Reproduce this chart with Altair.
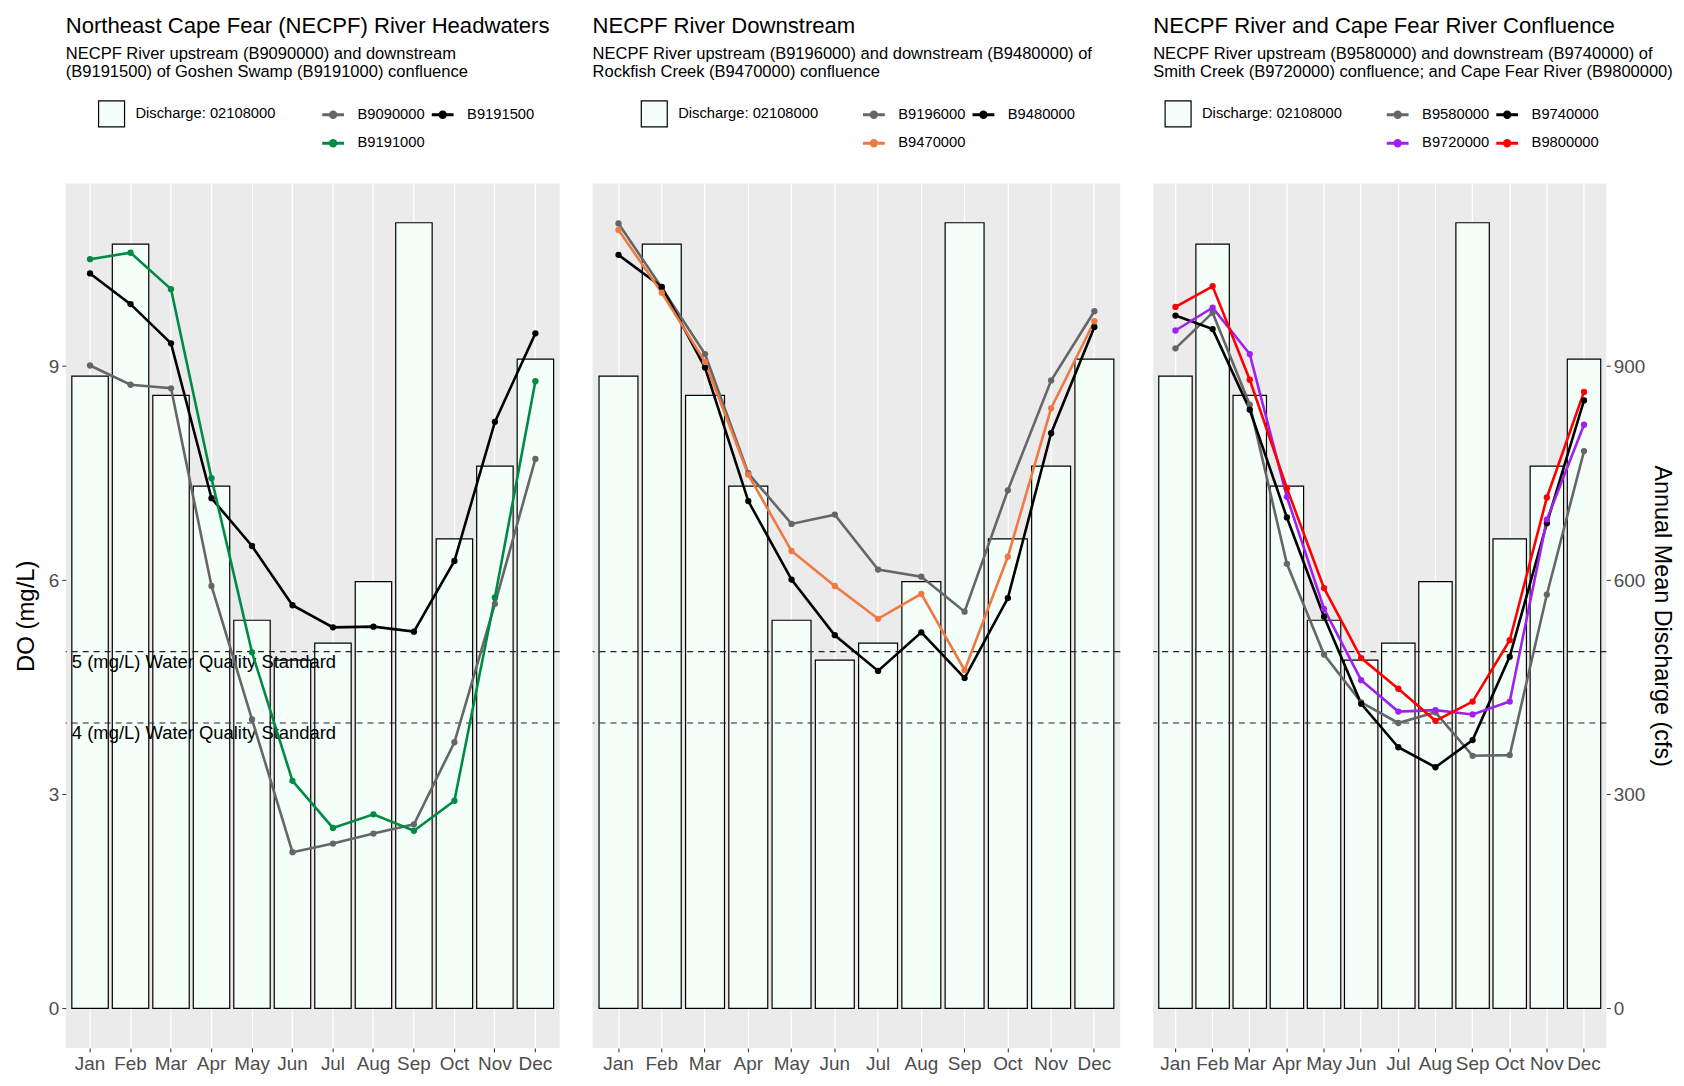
import altair as alt
import pandas as pd

FONT = "Liberation Sans"

months = ["Jan", "Feb", "Mar", "Apr", "May", "Jun", "Jul", "Aug", "Sep", "Oct", "Nov", "Dec"]
discharge = [886, 1071, 859, 732, 544, 488, 512, 598, 1101, 658, 760, 910]
discharge_label = "Discharge: 02108000"

# Panel 1
p1_stations = ["B9090000", "B9191500", "B9191000"]
p1_colors = ["#666666", "#000000", "#008B45"]
B9090000 = [9.01, 8.74, 8.69, 5.92, 4.05, 2.19, 2.31, 2.45, 2.58, 3.73, 5.67, 7.70]
B9191500 = [10.30, 9.87, 9.32, 7.15, 6.48, 5.65, 5.34, 5.35, 5.28, 6.27, 8.22, 9.46]
B9191000 = [10.50, 10.59, 10.08, 7.43, 4.99, 3.19, 2.53, 2.72, 2.49, 2.91, 5.76, 8.79]

# Panel 2
p2_stations = ["B9196000", "B9480000", "B9470000"]
p2_colors = ["#666666", "#000000", "#EE7942"]
B9196000 = [11.00, 10.10, 9.17, 7.50, 6.79, 6.92, 6.15, 6.05, 5.56, 7.26, 8.80, 9.77]
B9480000 = [10.56, 10.11, 8.98, 7.11, 6.01, 5.23, 4.73, 5.27, 4.63, 5.75, 8.06, 9.55]
B9470000 = [10.91, 10.03, 9.06, 7.48, 6.41, 5.92, 5.46, 5.81, 4.74, 6.33, 8.41, 9.63]

# Panel 3
p3_stations = ["B9580000", "B9740000", "B9720000", "B9800000"]
p3_colors = ["#666666", "#000000", "#A020F0", "#FF0000"]
B9580000 = [9.25, 9.75, 8.46, 6.23, 4.96, 4.29, 4.00, 4.15, 3.54, 3.55, 5.80, 7.81]
B9740000 = [9.71, 9.52, 8.39, 6.88, 5.49, 4.27, 3.66, 3.38, 3.76, 4.93, 6.80, 8.52]
B9720000 = [9.50, 9.82, 9.17, 7.17, 5.60, 4.60, 4.16, 4.18, 4.12, 4.30, 6.85, 8.18]
B9800000 = [9.83, 10.12, 8.81, 7.29, 5.89, 4.91, 4.48, 4.03, 4.30, 5.16, 7.16, 8.64]

standards = [5, 4]
standard_labels = ["5 (mg/L) Water Quality Standard", "4 (mg/L) Water Quality Standard"]

DO_DOMAIN = [-0.553, 11.56]
Q_DOMAIN = [-55.3, 1156]
MINOR_TICKS = [0, 1.5, 3, 4.5, 6, 7.5, 9, 10.5]
BAR_FILL = "#F3FFF8"
HEIGHT = 868


def x_enc(band_pos=None):
    kw = {}
    if band_pos is not None:
        kw["bandPosition"] = band_pos
    return alt.X(
        "month:N",
        sort=months,
        scale=alt.Scale(domain=months, paddingInner=0.1, paddingOuter=0.15),
        axis=alt.Axis(
            title=None, labelAngle=0, labelFontSize=19, labelColor="#4D4D4D",
            labelPadding=3, tickSize=4, tickColor="#333333", tickWidth=1.1,
            domain=False, grid=True, gridColor="white", gridWidth=1.3,
        ),
        **kw,
    )


def panel(title, subtitle, stations, colors, series, width, fill_legx, col_legx,
          left_labels, right_axis, annotate):
    bars_df = pd.DataFrame({"month": months, "discharge": discharge,
                            "label": [discharge_label] * len(months)})
    if right_axis:
        q_axis = alt.Axis(
            orient="right", values=[0, 300, 600, 900], grid=False, domain=False,
            labelFontSize=19, labelColor="#4D4D4D", labelPadding=3, tickSize=4,
            tickColor="#333333", title="Annual Mean Discharge (cfs)", titleFontSize=23.5,
            titleFontWeight="normal", titleColor="black", titlePadding=5,
        )
    else:
        q_axis = None
    bars = alt.Chart(bars_df).mark_bar(stroke="black", strokeWidth=1.2).encode(
        x=x_enc(),
        y=alt.Y("discharge:Q", scale=alt.Scale(domain=Q_DOMAIN, nice=False, zero=False), axis=q_axis),
        y2=alt.datum(0),
        fill=alt.Fill(
            "label:N",
            scale=alt.Scale(domain=[discharge_label], range=[BAR_FILL]),
            legend=alt.Legend(
                title=None, orient="none", legendX=fill_legx, legendY=-84,
                symbolType="square", symbolSize=680, symbolStrokeColor="black",
                symbolStrokeWidth=1.2, symbolFillColor=BAR_FILL,
                labelFontSize=14.8, labelFont=FONT, labelColor="black", labelOffset=10,
            ),
        ),
    )

    rows = []
    for st in stations:
        for m, v in zip(months, series[st]):
            rows.append({"month": m, "station": st, "do": v})
    df = pd.DataFrame(rows)

    do_scale = alt.Scale(domain=DO_DOMAIN, nice=False, zero=False)
    cond = "datum.value % 3 == 0"
    if left_labels:
        do_axis = alt.Axis(
            orient="left", values=MINOR_TICKS,
            labelExpr=f"{cond} ? datum.label : ''",
            gridColor="white",
            gridWidth={"condition": {"test": cond, "value": 1.3}, "value": 0.6},
            tickOpacity={"condition": {"test": cond, "value": 1}, "value": 0},
            tickColor="#333333", tickSize=4, domain=False,
            labelFontSize=19, labelColor="#4D4D4D", labelPadding=3,
            title="DO (mg/L)", titleFontSize=24, titleFontWeight="normal",
            titleColor="black", titlePadding=10,
        )
    else:
        do_axis = alt.Axis(
            orient="left", values=MINOR_TICKS, labels=False, ticks=False, domain=False,
            title=None, gridColor="white",
            gridWidth={"condition": {"test": cond, "value": 1.3}, "value": 0.6},
        )

    lines = alt.Chart(df).mark_line(
        strokeWidth=2.6, point=alt.OverlayMarkDef(filled=True, size=40)
    ).encode(
        x=x_enc(),
        y=alt.Y("do:Q", scale=do_scale, axis=do_axis),
        color=alt.Color(
            "station:N",
            sort=stations,
            scale=alt.Scale(domain=stations, range=colors),
            legend=alt.Legend(
                title=None, orient="none", legendX=col_legx, legendY=-82, columns=2,
                direction="horizontal",
                symbolType="M-1,0H1M-0.25,0a0.25,0.25 0 1,0 0.5,0a0.25,0.25 0 1,0 -0.5,0",
                symbolStrokeWidth=3, symbolSize=480, labelFontSize=14.8, labelFont=FONT,
                labelColor="black", labelOffset=12, columnPadding=0, rowPadding=7,
            ),
        ),
        detail="station:N",
    )

    std_df = pd.DataFrame({"y": standards, "label": standard_labels, "month": ["Jan", "Jan"]})
    rules = alt.Chart(std_df).mark_rule(
        strokeDash=[6, 5], color="#222222", strokeWidth=1.1
    ).encode(y=alt.Y("y:Q", scale=do_scale, axis=None))

    layers = [bars, rules]
    if annotate:
        text = alt.Chart(std_df).mark_text(
            align="left", baseline="top", fontSize=18.5, font=FONT, color="black", dy=1
        ).encode(
            x=x_enc(band_pos=0),
            y=alt.Y("y:Q", scale=do_scale, axis=None),
            text="label:N",
        )
        layers.append(text)
    layers.append(lines)

    return alt.layer(*layers).resolve_scale(y="independent").properties(
        width=width, height=HEIGHT,
        title=alt.TitleParams(
            text=title, subtitle=subtitle, anchor="start", frame="group",
            fontSize=22.2, font=FONT, fontWeight="normal", color="black",
            subtitleFontSize=16.6, subtitleFont=FONT, subtitleColor="black",
            subtitleLineHeight=18, subtitlePadding=9, offset=19,
        ),
    )


p1 = panel(
    "Northeast Cape Fear (NECPF) River Headwaters",
    ["NECPF River upstream (B9090000) and downstream",
     "(B9191500) of Goshen Swamp (B9191000) confluence"],
    p1_stations, p1_colors,
    {"B9090000": B9090000, "B9191500": B9191500, "B9191000": B9191000},
    496, 32, 256, True, False, True,
)
p2 = panel(
    "NECPF River Downstream",
    ["NECPF River upstream (B9196000) and downstream (B9480000) of",
     "Rockfish Creek (B9470000) confluence"],
    p2_stations, p2_colors,
    {"B9196000": B9196000, "B9480000": B9480000, "B9470000": B9470000},
    530, 48, 270, False, False, False,
)
p3 = panel(
    "NECPF River and Cape Fear River Confluence",
    ["NECPF River upstream (B9580000) and downstream (B9740000) of",
     "Smith Creek (B9720000) confluence; and Cape Fear River (B9800000)"],
    p3_stations, p3_colors,
    {"B9580000": B9580000, "B9740000": B9740000, "B9720000": B9720000, "B9800000": B9800000},
    455, 11, 233, False, True, False,
)

chart = alt.hconcat(p1, p2, p3, spacing=31).resolve_scale(
    x="independent", y="independent", color="independent", fill="independent"
).resolve_legend(color="independent", fill="independent").properties(
    padding={"left": 6, "top": 5, "right": 2, "bottom": 5},
    background="white",
).configure_view(
    fill="#EBEBEB", strokeWidth=0
).configure_axis(
    labelFont=FONT, titleFont=FONT
).configure_legend(
    labelFont=FONT
)

chart.save("out.html", embed_options={"renderer": "svg", "actions": False})
